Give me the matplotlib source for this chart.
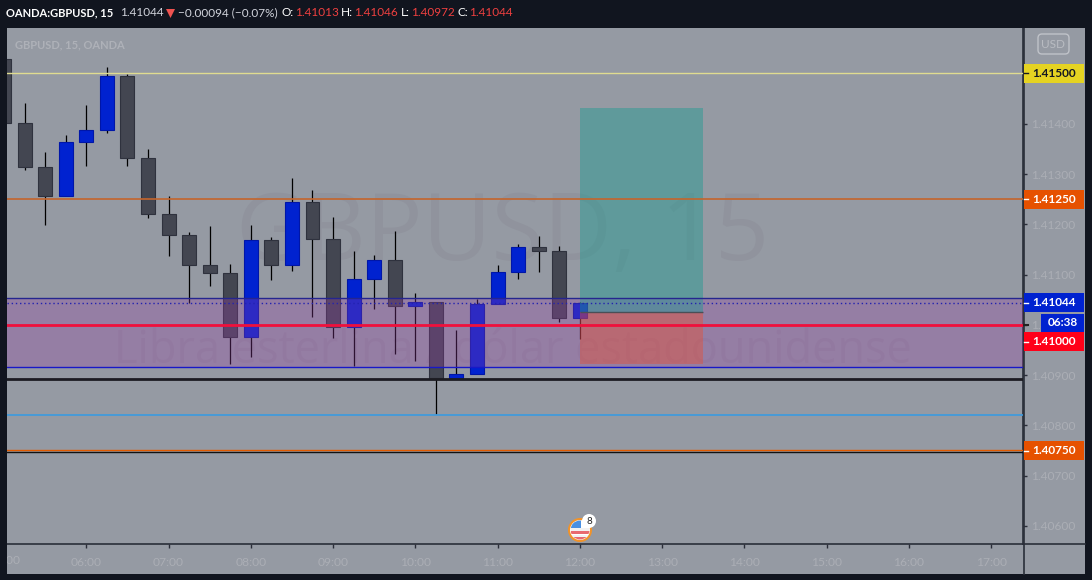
import matplotlib
matplotlib.use('Agg')
import matplotlib.pyplot as plt
from matplotlib.patches import Circle, FancyBboxPatch, Polygon, Rectangle

times = ['05:00', '05:15', '05:30', '05:45', '06:00', '06:15', '06:30', '06:45', '07:00', '07:15',
         '07:30', '07:45', '08:00', '08:15', '08:30', '08:45', '09:00', '09:15', '09:30', '09:45',
         '10:00', '10:15', '10:30', '10:45', '11:00', '11:15', '11:30', '11:45', '12:00']
opens = [1.41529, 1.41401, 1.41313, 1.41256, 1.41363, 1.41387, 1.41496, 1.41331, 1.41220, 1.41178,
         1.41120, 1.41104, 1.40975, 1.41168, 1.41120, 1.41244, 1.41170, 1.40995, 1.41092, 1.41128,
         1.41037, 1.41045, 1.40895, 1.40903, 1.41041, 1.41106, 1.41154, 1.41146, 1.41013]
closes = [1.41401, 1.41313, 1.41256, 1.41363, 1.41387, 1.41496, 1.41331, 1.41220, 1.41178, 1.41120,
          1.41104, 1.40975, 1.41168, 1.41120, 1.41244, 1.41170, 1.40995, 1.41092, 1.41128, 1.41037,
          1.41045, 1.40895, 1.40903, 1.41041, 1.41106, 1.41154, 1.41146, 1.41013, 1.41044]
highs = [1.41535, 1.41441, 1.41343, 1.41378, 1.41437, 1.41512, 1.41499, 1.41350, 1.41256, 1.41185,
         1.41197, 1.41122, 1.41199, 1.41175, 1.41292, 1.41268, 1.41214, 1.41147, 1.41139, 1.41187,
         1.41063, 1.41045, 1.40990, 1.41051, 1.41119, 1.41161, 1.41177, 1.41157, 1.41046]
lows = [1.41401, 1.41309, 1.41199, 1.41256, 1.41315, 1.41382, 1.41315, 1.41213, 1.41137, 1.41043,
        1.41078, 1.40923, 1.40936, 1.41090, 1.41108, 1.41016, 1.40974, 1.40919, 1.41032, 1.40942,
        1.40928, 1.40822, 1.40895, 1.40903, 1.41041, 1.41092, 1.41106, 1.41006, 1.40972]

hour_ticks = [6, 7, 8, 9, 10, 11, 12, 13, 14, 15, 16, 17]
hour_labels = ['06:00', '07:00', '08:00', '09:00', '10:00', '11:00', '12:00', '13:00',
               '14:00', '15:00', '16:00', '17:00']
price_ticks = [1.414, 1.413, 1.412, 1.411, 1.410, 1.409, 1.408, 1.407, 1.406]

zone_top, zone_bottom = 1.41054, 1.40917
last_price = 1.41044
target_price, entry_price, stop_price = 1.41431, 1.41025, 1.40922
box_start, box_end = 12.0, 13.5

BG = '#11151f'
PANE = '#959aa3'
TICK = '#abaeb5'
W, H = 1092, 580
PANE_L, PANE_R, PANE_T, PANE_B = 7, 1023, 28, 544
YMIN, YMAX = 1.40564, 1.415905

plt.rcParams['font.family'] = ['Lato', 'DejaVu Sans']
fig = plt.figure(figsize=(W / 100, H / 100), dpi=100, facecolor=BG)
ax = fig.add_axes([PANE_L / W, 1 - PANE_B / H, (PANE_R - PANE_L) / W, (PANE_B - PANE_T) / H], facecolor=PANE)

# Watermark first, everything else goes on top of it
wm = dict(color='#90939d', ha='center', va='center', zorder=1, family='Open Sans')
ax.text(0.488, 0.597, 'GBPUSD, 15', transform=ax.transAxes, fontsize=68, **wm)
ax.text(0.4975, 0.3735, 'Libra esterlina / dólar estadounidense', transform=ax.transAxes, fontsize=32.5, **wm)

# Candles
hours = [int(t[:2]) + int(t[3:]) / 60 for t in times]
for h, o, c, hi, lo in zip(hours, opens, closes, highs, lows):
    up = c > o
    ax.vlines(h, lo, hi, color='#000000', lw=0.9, zorder=2)
    ax.bar(h, abs(c - o), bottom=min(o, c), width=0.17, zorder=3,
           color='#0022d0' if up else '#434651', edgecolor='#0016a8' if up else '#2f323e', lw=0.8)

# Long position box
ax.add_patch(Rectangle((box_start, entry_price), box_end - box_start, target_price - entry_price,
                       color='#0e9c90', alpha=0.4, lw=0, zorder=5))
ax.add_patch(Rectangle((box_start, stop_price), box_end - box_start, entry_price - stop_price,
                       color='#ed4b2b', alpha=0.4, lw=0, zorder=5))
ax.hlines(entry_price, box_start, box_end, color='#4a4f57', lw=1.0, zorder=6)

# Zone and levels
ax.axhspan(zone_bottom, zone_top, color='#983ea8', alpha=0.3, lw=0, zorder=4)
ax.axhline(zone_top, color='#25258f', lw=1.0, zorder=6)
ax.axhline(zone_bottom, color='#1818c8', lw=1.0, zorder=6)
ax.axhline(last_price, color='#2222b0', lw=1.0, ls=(0, (1, 2)), zorder=6)
ax.axhline(1.41500, color='#e0dc90', lw=1.0, zorder=6)
ax.axhline(1.41250, color='#c4652c', lw=1.2, zorder=6)
ax.axhline(1.41000, color='#f0103c', lw=2.0, zorder=6)
ax.axhline(1.40893, color='#1c1c22', lw=2.0, zorder=6)
ax.axhline(1.40821, color='#3a9be0', lw=1.2, zorder=6)
ax.axhline(1.40748, color='#111111', lw=1.0, zorder=6)
ax.axhline(1.40751, color='#e25b00', lw=1.0, zorder=7)

ax.set_axisbelow(True)
ax.yaxis.tick_right()
ax.set_yticks(price_ticks)
ax.set_yticklabels(['%.5f' % p for p in price_ticks])
ax.set_xticks(hour_ticks)
ax.set_xticklabels(hour_labels)
ax.set_xlim(5.0359, 17.388)
ax.set_ylim(YMIN, YMAX)
ax.tick_params(axis='y', length=3, width=1, color='#2a2e39', labelcolor=TICK, labelsize=8.6, pad=3)
ax.tick_params(axis='x', length=3, width=1, color='#2a2e39', labelcolor=TICK, labelsize=8.7, pad=6)
for s in ['top', 'left']:
    ax.spines[s].set_visible(False)
for s in ['right', 'bottom']:
    ax.spines[s].set_color('#2a2e39')
    ax.spines[s].set_linewidth(1.2)

# Pixel overlay for the things around the chart
under = fig.add_axes([0, 0, 1, 1], zorder=-1)
under.set_xlim(0, W)
under.set_ylim(H, 0)
under.axis('off')
under.add_patch(Rectangle((PANE_L, PANE_T), 1085 - PANE_L, 574 - PANE_T, color=PANE, lw=0))
under.plot([1023.5, 1023.5], [28, 574], color='#2a2e39', lw=1.2)
under.plot([1023, 1085], [544, 544], color='#2a2e39', lw=1.2)

ui = fig.add_axes([0, 0, 1, 1], zorder=5, facecolor='none')
ui.set_xlim(0, W)
ui.set_ylim(H, 0)
ui.axis('off')
# 05:00 sits mostly off the pane, the strip on the left cuts it down to "00"
ui.text(5, 561, '05:00', color=TICK, fontsize=8.7, ha='center', va='center', zorder=0.5)
ui.add_patch(Rectangle((0, 0), PANE_L, H, color=BG, lw=0))
ui.add_patch(Rectangle((0, 0), W, PANE_T, color=BG, lw=0))


def price_y(p):
    return PANE_B - (p - YMIN) / (YMAX - YMIN) * (PANE_B - PANE_T)


def price_box(p, text, fc, tc, tick='#ffffff', y=None):
    yc = price_y(p) if y is None else y
    ui.add_patch(Rectangle((1024, yc - 9.5), 60, 19, color=fc, lw=0))
    ui.plot([1024, 1028], [yc, yc], color=tick, lw=1)
    ui.text(1054, yc, text, color=tc, fontsize=8.5, ha='center', va='center', fontweight='bold')


price_box(1.41500, '1.41500', '#e5d322', '#131722', tick='#131722')
price_box(1.41250, '1.41250', '#e65100', '#ffffff')
price_box(last_price, '1.41044', '#0022d0', '#ffffff')
price_box(1.41000, '1.41000', '#ff0019', '#ffffff', y=341.5)
price_box(1.40750, '1.40750', '#e65100', '#ffffff')
ui.add_patch(Rectangle((1041, 314), 43, 18, color='#0022d0', lw=0))
ui.text(1062.5, 323, '06:38', color='#ffffff', fontsize=8.5, ha='center', va='center', fontweight='bold')
ui.plot([1024, 1028], [325, 325], color='#222222', lw=1.5)

# Currency button
ui.add_patch(FancyBboxPatch((1041, 37), 25, 14, boxstyle='round,pad=3,rounding_size=4', fc='none', ec='#c0c3c9', lw=1))
ui.text(1053.5, 44, 'USD', color='#b9bcc2', fontsize=8.5, ha='center', va='center')

# Header
ui.text(6, 13, 'OANDA:GBPUSD, 15', color='#ffffff', fontsize=8.0, va='center', fontweight='bold')
ui.text(120, 13, '1.41044', color='#d1d4dc', fontsize=8.5, va='center')
ui.add_patch(Polygon([(166, 9), (175, 9), (170.5, 18)], color='#ef5350', lw=0))
ui.text(178, 13, '−0.00094 (−0.07%)', color='#d1d4dc', fontsize=8.5, va='center')
for x, label in [(281, 'O:'), (341, 'H:'), (401, 'L:'), (458, 'C:')]:
    ui.text(x, 13, label, color='#ffffff', fontsize=8.5, va='center')
for x, value in [(295, '1.41013'), (354, '1.41046'), (411, '1.40972'), (469, '1.41044')]:
    ui.text(x, 13, value, color='#ef4040', fontsize=8.5, va='center')
ui.text(15, 45, 'GBPUSD, 15, OANDA', color='#aeb1b8', fontsize=8.0, va='center', fontweight='bold')

# Calendar event marker
ring = Circle((580, 530), 11, fc='#ffffff', ec='#f0932b', lw=1.5, zorder=3)
ui.add_patch(ring)
for yy, col, hh, ww in [(520, '#4a90e2', 8, 10), (528, '#f2f2f2', 3, 20), (531, '#e86a70', 3, 20),
                        (535, '#f2f2f2', 2, 20), (537, '#e86a70', 3, 20)]:
    r = Rectangle((571, yy), ww, hh, color=col, lw=0, zorder=4)
    ui.add_patch(r)
    r.set_clip_path(Circle((580, 530), 9.5, transform=ui.transData))
ui.add_patch(Circle((589, 521), 7, fc='#ffffff', ec='none', zorder=5))
ui.text(589, 521, '8', color='#222222', fontsize=7, ha='center', va='center', zorder=6)

fig.savefig('out.png', dpi=100, facecolor=BG)
